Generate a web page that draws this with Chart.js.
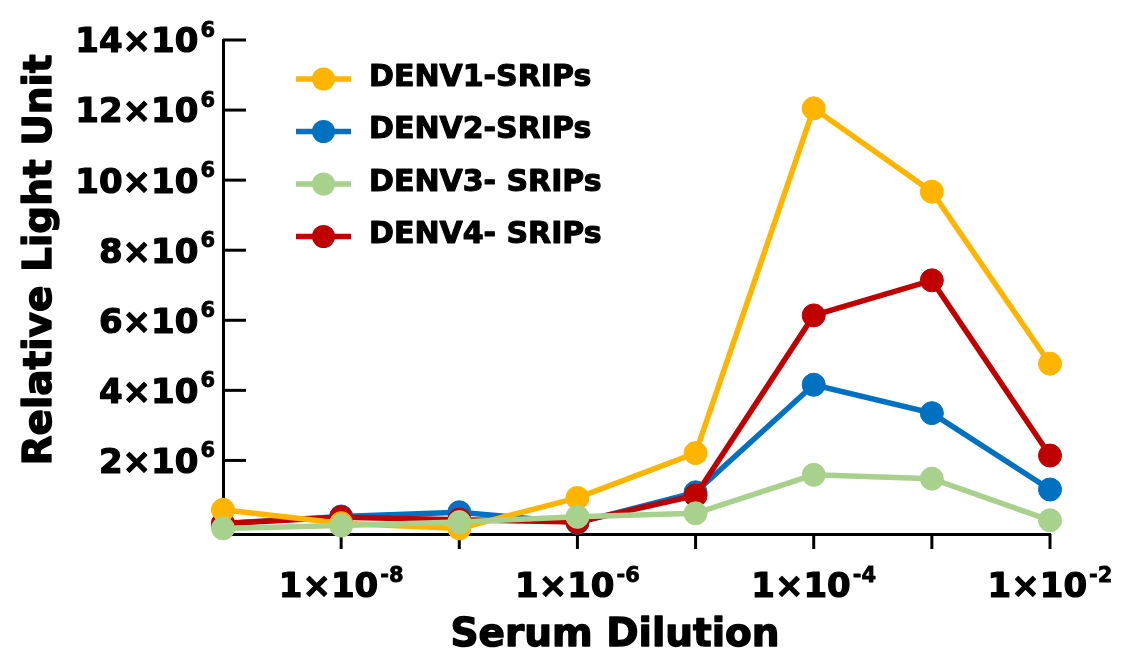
<!DOCTYPE html>
<html>
<head>
<meta charset="utf-8">
<script src="https://cdn.jsdelivr.net/npm/chart.js@4"></script>
<style>
  html, body { margin: 0; padding: 0; background: #fff; }
  #chart { display: block; }
</style>
</head>
<body>
<canvas id="chart" width="1123" height="656"></canvas>
<script>
// serum dilution (x, log scale)
const dilutions = [1e-9, 1e-8, 1e-7, 1e-6, 1e-5, 1e-4, 1e-3, 1e-2];

// relative light units per serotype
const denv1 = [590000, 210000, 60000, 930000, 2210000, 12050000, 9670000, 4760000];
const denv2 = [200000, 400000, 520000, 220000, 1090000, 4160000, 3350000, 1170000];
const denv3 = [60000, 140000, 240000, 390000, 490000, 1590000, 1480000, 290000];
const denv4 = [200000, 380000, 310000, 240000, 1000000, 6140000, 7140000, 2140000];

const seriesNames = ['DENV1-SRIPs', 'DENV2-SRIPs', 'DENV3- SRIPs', 'DENV4- SRIPs'];
const seriesColors = ['#FFB500', '#0070C0', '#A9D18E', '#C00000'];
const drawOrder = [1, 3, 0, 2]; // lower = drawn on top

// tick labels
const yTicks = [2e6, 4e6, 6e6, 8e6, 10e6, 12e6, 14e6];
const yTickBase = ['2×10', '4×10', '6×10', '8×10', '10×10', '12×10', '14×10'];
const yTickSup = ['6', '6', '6', '6', '6', '6', '6'];
const xMinorTicks = [1e-8, 1e-7, 1e-6, 1e-5, 1e-4, 1e-3, 1e-2];
const xTicks = [1e-8, 1e-6, 1e-4, 1e-2];
const xTickBase = ['1×10', '1×10', '1×10', '1×10'];
const xTickSup = ['-8', '-6', '-4', '-2'];

const xTitle = 'Serum Dilution';
const yTitle = 'Relative Light Unit';

const FONT = '"DejaVu Sans", sans-serif';

// heavier look: fill + thin stroke
function boldText(ctx, text, x, y, weight) {
    ctx.lineWidth = weight;
    ctx.strokeStyle = '#000';
    ctx.lineJoin = 'round';
    ctx.strokeText(text, x, y);
    ctx.fillText(text, x, y);
}

function drawSupText(ctx, base, sup, x, baseline, align) {
    ctx.font = 'bold 34px ' + FONT;
    const wb = ctx.measureText(base).width;
    ctx.font = 'bold 21px ' + FONT;
    const ws = ctx.measureText(sup).width;
    const total = wb + 2 + ws;
    let start = x;
    if (align === 'right') start = x - total;
    else if (align === 'center') start = x - total / 2;
    ctx.textAlign = 'left';
    ctx.textBaseline = 'alphabetic';
    ctx.font = 'bold 34px ' + FONT;
    boldText(ctx, base, start, baseline, 1.2);
    ctx.font = 'bold 21px ' + FONT;
    boldText(ctx, sup, start + wb + 2, baseline - 15.5, 0.8);
}

const axisDecor = {
    id: 'axisDecor',
    beforeDatasetsDraw(chart) {
        const ctx = chart.ctx;
        const xs = chart.scales.x;
        const ys = chart.scales.y;
        const area = chart.chartArea;
        ctx.save();
        ctx.strokeStyle = '#000';
        ctx.lineWidth = 3;
        // y ticks point inward
        yTicks.forEach(v => {
            const py = ys.getPixelForValue(v);
            ctx.beginPath();
            ctx.moveTo(area.left, py);
            ctx.lineTo(area.left + 23, py);
            ctx.stroke();
        });
        // x ticks point down
        xMinorTicks.forEach(v => {
            const px = xs.getPixelForValue(v);
            ctx.beginPath();
            ctx.moveTo(px, area.bottom);
            ctx.lineTo(px, area.bottom + 15);
            ctx.stroke();
        });
        ctx.restore();
    },
    afterDraw(chart) {
        const ctx = chart.ctx;
        const xs = chart.scales.x;
        const ys = chart.scales.y;
        const area = chart.chartArea;
        ctx.save();
        ctx.fillStyle = '#000';

        yTicks.forEach((v, i) => {
            const py = ys.getPixelForValue(v);
            drawSupText(ctx, yTickBase[i], yTickSup[i], area.left - 8, py + 12.4, 'right');
        });
        xTicks.forEach((v, i) => {
            const px = xs.getPixelForValue(v);
            drawSupText(ctx, xTickBase[i], xTickSup[i], px, 597, 'center');
        });

        // axis titles
        ctx.font = 'bold 39px ' + FONT;
        ctx.textAlign = 'center';
        ctx.textBaseline = 'middle';
        boldText(ctx, xTitle, 615, 636, 1.4);
        ctx.save();
        ctx.translate(41, 260);
        ctx.rotate(-Math.PI / 2);
        boldText(ctx, yTitle, 0, 0, 1.4);
        ctx.restore();

        // legend
        chart.data.datasets.forEach((ds, i) => {
            const cy = 79 + i * 52.5;
            ctx.strokeStyle = ds.borderColor;
            ctx.lineWidth = 5.5;
            ctx.beginPath();
            ctx.moveTo(296, cy);
            ctx.lineTo(351, cy);
            ctx.stroke();
            ctx.fillStyle = ds.backgroundColor;
            ctx.beginPath();
            ctx.arc(323.5, cy, 11.5, 0, Math.PI * 2);
            ctx.fill();
            ctx.fillStyle = '#000';
            ctx.font = 'bold 30px ' + FONT;
            ctx.textAlign = 'left';
            ctx.textBaseline = 'middle';
            boldText(ctx, ds.label, 369, cy - 1, 1.1);
        });
        ctx.restore();
    }
};

function makeDataset(i, values) {
    return {
        label: seriesNames[i],
        data: dilutions.map((d, k) => ({ x: d, y: values[k] })),
        borderColor: seriesColors[i],
        backgroundColor: seriesColors[i],
        pointBackgroundColor: seriesColors[i],
        pointBorderColor: seriesColors[i],
        borderWidth: 5.5,
        pointRadius: 11.5,
        pointBorderWidth: 1,
        tension: 0,
        clip: false,
        order: drawOrder[i]
    };
}

const chart = new Chart(document.getElementById('chart').getContext('2d'), {
    type: 'line',
    data: {
        datasets: [
            makeDataset(0, denv1),
            makeDataset(1, denv2),
            makeDataset(2, denv3),
            makeDataset(3, denv4)
        ]
    },
    options: {
        responsive: false,
        animation: false,
        devicePixelRatio: 1,
        layout: {
            padding: { left: 223, right: 73, top: 40, bottom: 122 }
        },
        plugins: {
            legend: { display: false },
            tooltip: { enabled: false }
        },
        scales: {
            x: {
                type: 'logarithmic',
                min: 1e-9,
                max: 1e-2,
                grid: { display: false, drawTicks: false },
                ticks: { display: false },
                border: { display: true, color: '#000', width: 3 }
            },
            y: {
                type: 'linear',
                min: -100000,
                max: 14000000,
                grid: { display: false, drawTicks: false },
                ticks: { display: false },
                border: { display: true, color: '#000', width: 3 }
            }
        }
    },
    plugins: [axisDecor]
});
</script>
</body>
</html>
